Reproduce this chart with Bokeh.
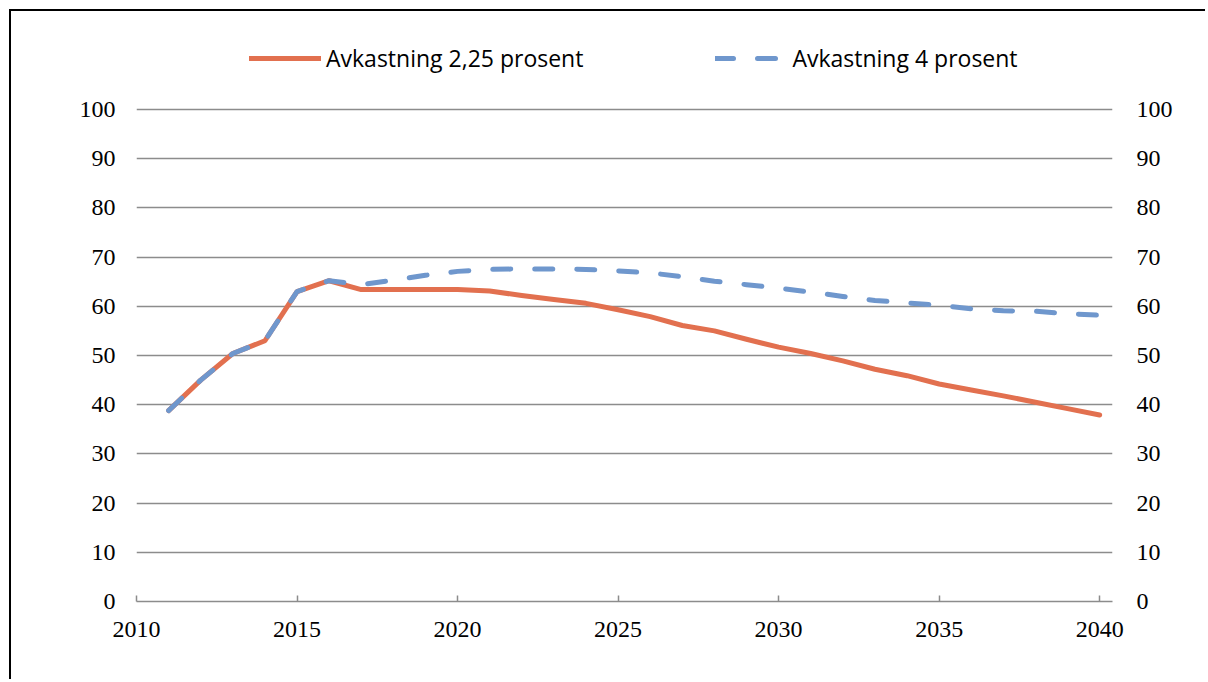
from bokeh.plotting import figure
from bokeh.models import Range1d, LinearAxis, FixedTicker, Legend, LegendItem
from bokeh.embed import file_html
from bokeh.resources import INLINE

years = list(range(2011, 2041))
avk_225 = [38.8, 45.0, 50.4, 53.0, 63.0, 65.2, 63.4, 63.4, 63.4, 63.4,
           63.1, 62.2, 61.4, 60.6, 59.3, 57.9, 56.1, 55.0, 53.3, 51.7,
           50.4, 48.9, 47.2, 45.9, 44.2, 43.0, 41.8, 40.5, 39.2, 37.9]
avk_4 = [38.8, 45.0, 50.4, 53.0, 63.0, 65.2, 64.4, 65.3, 66.3, 67.1,
         67.5, 67.6, 67.6, 67.5, 67.2, 66.8, 66.0, 65.1, 64.4, 63.7,
         62.9, 62.0, 61.2, 60.7, 60.2, 59.5, 59.1, 59.0, 58.5, 58.2]
x_ticks = [2010, 2015, 2020, 2025, 2030, 2035, 2040]
y_ticks = [0, 10, 20, 30, 40, 50, 60, 70, 80, 90, 100]
series_names = ["Avkastning 2,25 prosent", "Avkastning 4 prosent"]

ORANGE = "#E2704F"
BLUE = "#6F97CD"
GRID = "#8C8C8C"
TICK_FONT = "Liberation Serif"
TICK_SIZE = "24px"

# y range extends above 100 so the legend (inside the frame) sits above the grid
p = figure(width=1196, height=670, output_backend="svg", toolbar_location=None,
           x_range=Range1d(2010, 2040.4), y_range=Range1d(0, 116.06),
           min_border_left=125, min_border_right=95,
           min_border_top=19, min_border_bottom=80)
p.outline_line_color = None
p.background_fill_color = "white"
p.border_fill_color = "white"
p.styles = {"margin": "9px 0 0 9px",
            "border-top": "2px solid black", "border-left": "2px solid black"}

r1 = p.line(years, avk_225, line_color=ORANGE, line_width=5, line_cap="round", line_join="round")
r2 = p.line(years, avk_4, line_color=BLUE, line_width=5, line_dash="18 24", line_cap="round", line_join="round")

p.xgrid.visible = False
p.ygrid.ticker = FixedTicker(ticks=y_ticks)
p.ygrid.grid_line_color = GRID
p.ygrid.grid_line_width = 1.5

xa = p.xaxis[0]
xa.ticker = FixedTicker(ticks=x_ticks)
xa.axis_line_color = GRID
xa.axis_line_width = 1.5
xa.major_tick_line_color = GRID
xa.major_tick_line_width = 1.5
xa.major_tick_in = 6
xa.major_tick_out = 0
xa.minor_tick_line_color = None
xa.major_label_standoff = 20
xa.major_label_text_font = TICK_FONT
xa.major_label_text_font_size = TICK_SIZE
xa.major_label_text_color = "black"

ya = p.yaxis[0]
ya.ticker = FixedTicker(ticks=y_ticks)
ya.axis_line_color = None
ya.major_tick_line_color = None
ya.minor_tick_line_color = None
ya.major_tick_in = 0
ya.major_tick_out = 0
ya.major_label_standoff = 21
ya.major_label_text_font = TICK_FONT
ya.major_label_text_font_size = TICK_SIZE
ya.major_label_text_color = "black"

ra = LinearAxis(ticker=FixedTicker(ticks=y_ticks))
ra.axis_line_color = None
ra.major_tick_line_color = None
ra.minor_tick_line_color = None
ra.major_tick_in = 0
ra.major_tick_out = 0
ra.major_label_standoff = 24
ra.major_label_text_font = TICK_FONT
ra.major_label_text_font_size = TICK_SIZE
ra.major_label_text_color = "black"
p.add_layout(ra, "right")

legend = Legend(items=[LegendItem(label=series_names[0], renderers=[r1]),
                       LegendItem(label=series_names[1], renderers=[r2])],
                orientation="horizontal", location=(113, 527))
legend.label_text_font = "Open Sans"
legend.label_text_font_size = "23px"
legend.label_text_color = "black"
legend.glyph_width = 72
legend.glyph_height = 24
legend.label_height = 24
legend.label_standoff = 5
legend.spacing = 132
legend.padding = 0
legend.margin = 0
legend.border_line_color = None
legend.background_fill_alpha = 0
p.add_layout(legend)

open("out.html", "w").write(file_html(p, INLINE))
